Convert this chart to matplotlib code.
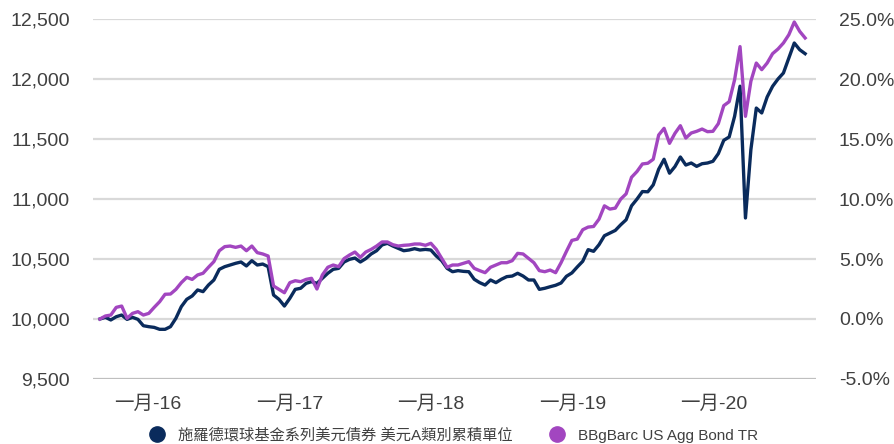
import matplotlib
matplotlib.use("Agg")
import matplotlib.pyplot as plt
from matplotlib.lines import Line2D
from matplotlib.ticker import FuncFormatter, FixedLocator
import pandas as pd

plt.rcParams['font.family'] = ['Liberation Sans', 'Noto Sans CJK TC', 'DejaVu Sans']

fund_label = "施羅德環球基金系列美元債券 美元A類別累積單位"
bench_label = "BBgBarc US Agg Bond TR"

# biweekly observations, rebased to 10,000
fund = [10000, 10014, 9992, 10019, 10033, 9997, 10014, 9997, 9944, 9936,
        9930, 9914, 9914, 9936, 10006, 10103, 10164, 10192, 10242, 10228,
        10283, 10325, 10414, 10436, 10450, 10464, 10475, 10442, 10486, 10450,
        10458, 10436, 10200, 10164, 10108, 10172, 10247, 10256, 10297, 10311,
        10297, 10339, 10381, 10414, 10422, 10475, 10497, 10508, 10475, 10503,
        10542, 10569, 10617, 10631, 10608, 10589, 10569, 10575, 10586, 10575,
        10580, 10575, 10525, 10486, 10422, 10394, 10403, 10397, 10394, 10331,
        10303, 10283, 10325, 10303, 10331, 10353, 10358, 10381, 10358, 10325,
        10325, 10247, 10256, 10269, 10281, 10300, 10356, 10384, 10434, 10481,
        10578, 10564, 10619, 10694, 10716, 10738, 10785, 10827, 10943, 10999,
        11062, 11060, 11118, 11248, 11331, 11215, 11270, 11350, 11283, 11300,
        11272, 11294, 11300, 11314, 11378, 11489, 11517, 11689, 11940, 10842,
        11411, 11758, 11717, 11850, 11939, 12000, 12050, 12175, 12300, 12244,
        12211]

bench = [10000, 10025, 10033, 10097, 10108, 10006, 10047, 10061, 10033, 10047,
         10097, 10144, 10206, 10208, 10247, 10303, 10347, 10330, 10367, 10381,
         10431, 10478, 10569, 10603, 10608, 10597, 10608, 10569, 10608, 10553,
         10542, 10525, 10275, 10247, 10219, 10303, 10319, 10311, 10330, 10339,
         10250, 10367, 10431, 10450, 10436, 10503, 10533, 10558, 10514, 10558,
         10580, 10608, 10642, 10642, 10619, 10608, 10614, 10617, 10625, 10625,
         10614, 10631, 10580, 10506, 10431, 10450, 10450, 10464, 10478, 10422,
         10403, 10386, 10431, 10450, 10469, 10469, 10486, 10547, 10542, 10506,
         10469, 10403, 10394, 10408, 10386, 10469, 10564, 10655, 10666, 10744,
         10766, 10771, 10832, 10943, 10916, 10924, 10999, 11043, 11181, 11229,
         11292, 11298, 11331, 11533, 11589, 11464, 11547, 11611, 11508, 11550,
         11564, 11583, 11561, 11564, 11628, 11778, 11811, 11994, 12270, 11689,
         11981, 12133, 12078, 12133, 12211, 12250, 12300, 12369, 12475, 12397,
         12342]

dates = pd.date_range(start="2015-08-30", periods=len(fund), freq="14D")
tick_dates = pd.to_datetime(["2016-01-01", "2017-01-01", "2018-01-01", "2019-01-01", "2020-01-01"])
tick_labels = ["一月-16", "一月-17", "一月-18", "一月-19", "一月-20"]
left_ticks = [9500, 10000, 10500, 11000, 11500, 12000, 12500]
right_ticks = [-5, 0, 5, 10, 15, 20, 25]

navy = "#0A2B5C"
purple = "#A246C0"
txt = "#404040"

fig = plt.figure(figsize=(8.95, 4.44), dpi=100)
ax = fig.add_axes([0.1039, 0.1464, 0.8078, 0.8108])
ax2 = ax.twinx()

ax.plot(dates, fund, color=navy, lw=2.4, solid_joinstyle='round', zorder=3)
bench_pct = [(v - 10000) / 100.0 for v in bench]
ax2.plot(dates, bench_pct, color=purple, lw=2.4, solid_joinstyle='round', zorder=3)

ax.set_ylim(9500, 12500)
ax2.set_ylim(-5, 25)
ax.set_xlim(pd.Timestamp("2015-08-12"), pd.Timestamp("2020-09-20"))

ax.yaxis.set_major_locator(FixedLocator(left_ticks))
ax.yaxis.set_major_formatter(FuncFormatter(lambda v, p: f"{v:,.0f}"))
ax2.yaxis.set_major_locator(FixedLocator(right_ticks))
ax2.yaxis.set_major_formatter(FuncFormatter(lambda v, p: f"{v:.1f}%"))
ax.set_xticks(tick_dates)
ax.set_xticklabels(tick_labels)

for a in (ax, ax2):
    for s in a.spines.values():
        s.set_visible(False)
    a.tick_params(length=0, labelsize=14, colors=txt)
ax.tick_params(axis='y', pad=16.5)
ax2.tick_params(axis='y', pad=16.5)
ax.tick_params(axis='x', pad=12)

for t in left_ticks:
    ax.axhline(t, color="#D9D9D9" if t != 9500 else "#BFBFBF", lw=1.6, zorder=1)

handles = [Line2D([], [], marker='o', ls='none', color=navy, markersize=11),
           Line2D([], [], marker='o', ls='none', color=purple, markersize=11)]
leg = fig.legend(handles, [fund_label, bench_label], loc='lower center', ncol=2,
                 frameon=False, fontsize=11, bbox_to_anchor=(0.507, -0.028),
                 handlelength=1.0, handletextpad=0.85, columnspacing=2.4)
for t in leg.get_texts():
    t.set_color(txt)

fig.savefig("out.png", dpi=100)
